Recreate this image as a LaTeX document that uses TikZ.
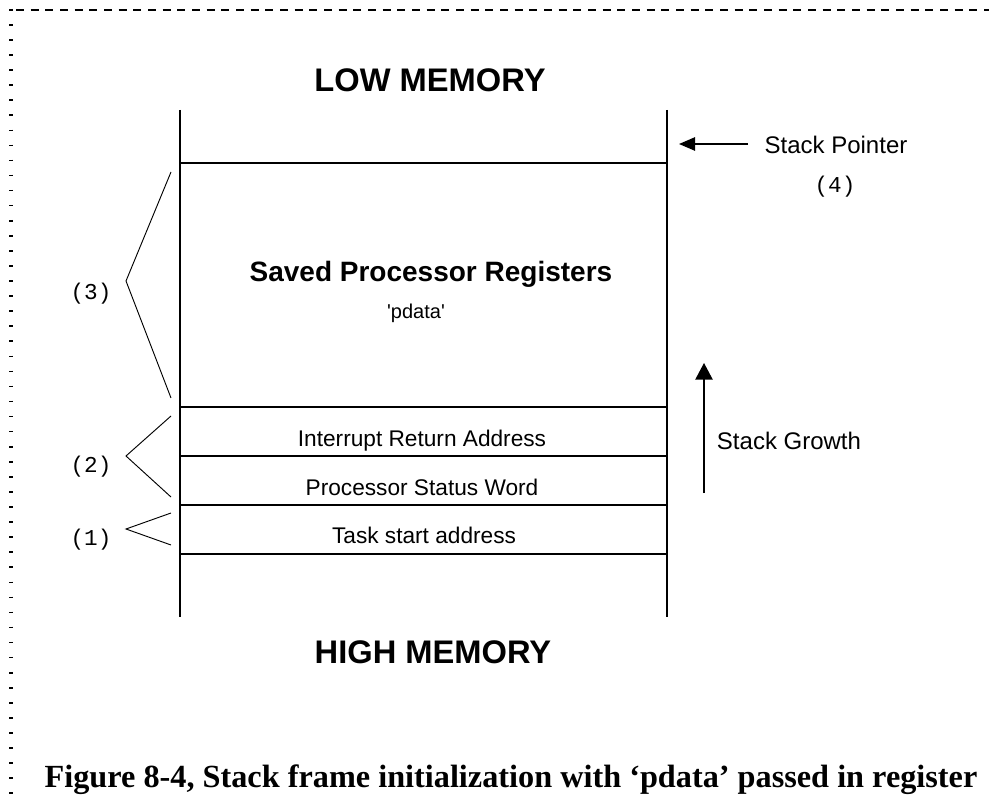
\documentclass[tikz,border=0pt]{standalone}
\usepackage{fontspec}
\setmainfont{Liberation Sans}
\newfontfamily\codefont{Liberation Mono}
\newfontfamily\capfont{Liberation Serif}
\usetikzlibrary{arrows.meta,positioning}

\tikzset{
  frameline/.style={line width=1.1pt},
  braceline/.style={line width=0.7pt},
  headtext/.style={font=\fontsize{24.5}{28}\selectfont\bfseries, anchor=base},
  celltext/.style={font=\fontsize{17}{20}\selectfont, anchor=base},
  sidetext/.style={font=\fontsize{18}{21}\selectfont, anchor=base},
  marktext/.style={font=\codefont\fontsize{17}{20}\selectfont, anchor=base},
}

\begin{document}
\begin{tikzpicture}[x=0.75pt, y=-0.75pt]
\useasboundingbox (0,0) rectangle (989,798);

% --- page border ---
\draw[line width=0.9pt, dash pattern=on 6pt off 5pt] (16,10) -- (989,10);
\draw[line width=2.4pt, dash pattern=on 1.2pt off 10.1pt] (11,9) -- (11,798);

% --- stack frame ---
\draw[frameline] (180,110) -- (180,617);
\draw[frameline] (667,110) -- (667,617);
\foreach \y in {163,407,456,505,554}
  \draw[frameline] (180,\y) -- (667,\y);

\node[headtext] (low) at (430,92) {LOW MEMORY};
\node[headtext] (high) at (433,663) {HIGH MEMORY};

\node[font=\fontsize{21}{24}\selectfont\bfseries, anchor=base] (saved) at (431,282) {Saved Processor Registers};
\node[font=\fontsize{15}{18}\selectfont, anchor=base] (pdata) at (416,319) {\textquotesingle pdata\textquotesingle};
\node[celltext] (ret) at (422,447) {Interrupt Return Address};
\node[celltext] (psw) at (422,495) {Processor Status Word};
\node[celltext] (task) at (424,543) {Task start address};

% --- stack pointer ---
\node[sidetext] (sp) at (836,154) {Stack Pointer};
\node[marktext] (m4) at (835,193) {(4)};
\coordinate (sptail) at (748,144);
\coordinate (sphead) at (679,144);
\draw[frameline, -{Triangle[length=12pt, width=10pt]}] (sptail) -- (sphead);

% --- stack growth ---
\node[sidetext] (grow) at (789,450) {Stack Growth};
\coordinate (grtail) at (704,493);
\coordinate (grhead) at (704,363);
\draw[frameline, -{Triangle[length=12.5pt, width=13pt]}] (grtail) -- (grhead);

% --- groups ---
\node[marktext] (m3) at (91,300) {(3)};
\node[marktext] (m2) at (91,473) {(2)};
\node[marktext] (m1) at (91,545) {(1)};
\draw[braceline] (171,172) -- (126,281) -- (171,398);
\draw[braceline] (171,416) -- (126,456) -- (171,497);
\draw[braceline] (171,513) -- (126,529) -- (171,545);

% --- caption ---
\node[font=\capfont\fontsize{24.2}{28}\selectfont\bfseries, anchor=base] (cap) at (511,787)
  {Figure 8-4, Stack frame initialization with ‘pdata’ passed in register};

\end{tikzpicture}
\end{document}
